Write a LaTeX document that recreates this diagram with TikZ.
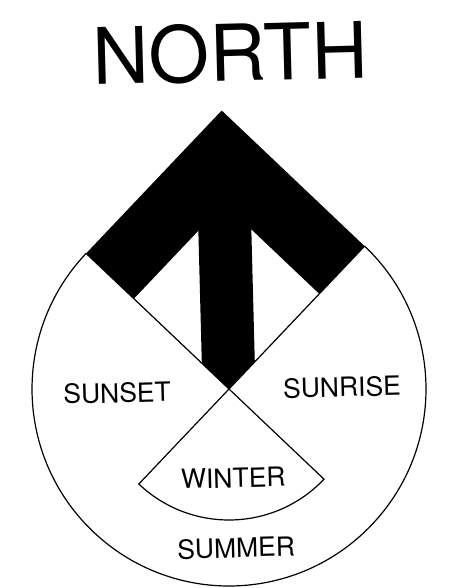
\documentclass[tikz,border=0pt]{standalone}
\usepackage{fontspec}
\setmainfont{TeX Gyre Heros}
\usetikzlibrary{positioning}
\begin{document}
\begin{tikzpicture}[x=1pt,y=1pt,line width=1.2pt,
          lbl/.style={inner sep=0pt,font=\fontsize{26.5}{26.5}\selectfont}]
  \useasboundingbox (-229,-199) rectangle (220,389);
  \begin{scope}[rotate=1.5,transform shape]
    \coordinate (o) at (0,0);
    \coordinate (l) at (135:197);
    \coordinate (r) at (45:197);
    \coordinate (tip) at (0,278.6);
    % arrow head
    \fill (o) -- (l) -- (tip) -- (r) -- cycle;
    \fill[white] (o) -- (135:131) -- (0,185.3) -- (45:131) -- cycle;
    \fill (o) -- (-26.5,26.5) -- (-26.5,200) -- (26.5,200) -- (26.5,26.5) -- cycle;
    % dial
    \draw (l) -- (o) -- (r);
    \draw (l) arc[start angle=135,end angle=405,radius=197];
    \draw (o) -- (225:131) arc[start angle=225,end angle=315,radius=131] -- cycle;
    \node[lbl](sunset) at (-112,-1){SUNSET};
    \node[lbl](sunrise) at (113,-1){SUNRISE};
    \node[lbl](winter) at (2,-89){WINTER};
    \node[lbl](summer) at (3,-159){SUMMER};
    \node[inner sep=0pt,font=\fontsize{78}{78}\selectfont](north) at (10,336){NORTH};
  \end{scope}
\end{tikzpicture}
\end{document}
